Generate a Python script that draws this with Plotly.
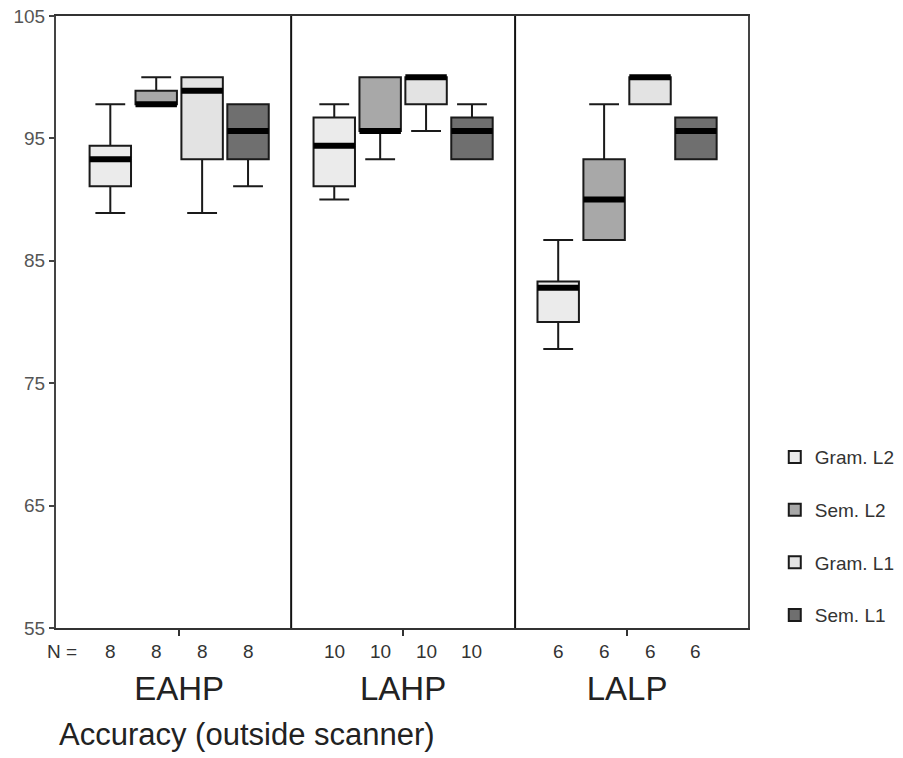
import plotly.graph_objects as go

# ---------------- data ----------------
groups = ["EAHP", "LAHP", "LALP"]
n_counts = [8, 10, 6]
conditions = ["Gram. L2", "Sem. L2", "Gram. L1", "Sem. L1"]

gram_l2_lo = [88.9, 90.0, 77.8]
gram_l2_q1 = [91.1, 91.1, 80.0]
gram_l2_med = [93.3, 94.4, 82.8]
gram_l2_q3 = [94.4, 96.7, 83.3]
gram_l2_hi = [97.8, 97.8, 86.7]

sem_l2_lo = [97.8, 93.3, 86.7]
sem_l2_q1 = [97.8, 95.6, 86.7]
sem_l2_med = [97.8, 95.6, 90.0]
sem_l2_q3 = [98.9, 100.0, 93.3]
sem_l2_hi = [100.0, 100.0, 97.8]

gram_l1_lo = [88.9, 95.6, 97.8]
gram_l1_q1 = [93.3, 97.8, 97.8]
gram_l1_med = [98.9, 100.0, 100.0]
gram_l1_q3 = [100.0, 100.0, 100.0]
gram_l1_hi = [100.0, 100.0, 100.0]

sem_l1_lo = [91.1, 93.3, 93.3]
sem_l1_q1 = [93.3, 93.3, 93.3]
sem_l1_med = [95.6, 95.6, 95.6]
sem_l1_q3 = [97.8, 96.7, 96.7]
sem_l1_hi = [97.8, 97.8, 96.7]

y_ticks = [55, 65, 75, 85, 95, 105]

# ---------------- styles ----------------
fills = ["#ebebeb", "#a8a8a8", "#e3e3e3", "#6f6f6f"]
stats = [
    (gram_l2_lo, gram_l2_q1, gram_l2_med, gram_l2_q3, gram_l2_hi),
    (sem_l2_lo, sem_l2_q1, sem_l2_med, sem_l2_q3, sem_l2_hi),
    (gram_l1_lo, gram_l1_q1, gram_l1_med, gram_l1_q3, gram_l1_hi),
    (sem_l1_lo, sem_l1_q1, sem_l1_med, sem_l1_q3, sem_l1_hi),
]
spacing = 0.205
box_w = 0.185
FONT = "Liberation Sans, Arial, sans-serif"

fig = go.Figure()
for i, (name, fill, (lo, q1, med, q3, hi)) in enumerate(zip(conditions, fills, stats)):
    off = (i - 1.5) * spacing
    xs = [g + off for g in range(len(groups))]
    fig.add_trace(go.Box(
        x=xs, lowerfence=lo, q1=q1, median=med, q3=q3, upperfence=hi,
        name=name, legendgroup=name, width=box_w, whiskerwidth=0.72,
        fillcolor=fill, line=dict(color="#1a1a1a", width=2),
        boxpoints=False, hoverinfo="skip",
    ))
    mx, my = [], []
    for x, m in zip(xs, med):
        mx += [x - box_w / 2, x + box_w / 2, None]
        my += [m, m, None]
    fig.add_trace(go.Scatter(
        x=mx, y=my, mode="lines", line=dict(color="black", width=6),
        showlegend=False, legendgroup=name, hoverinfo="skip",
    ))

# group dividers
for k in range(len(groups) - 1):
    fig.add_shape(type="line", xref="x", yref="paper", x0=k + 0.5, x1=k + 0.5,
                  y0=0, y1=1, line=dict(color="#111", width=2))

# N row
fig.add_annotation(text="N =", xref="paper", yref="paper", x=0.009, y=-0.039,
                   xanchor="center", yanchor="middle", showarrow=False,
                   font=dict(family=FONT, size=19, color="#333"))
for i in range(len(conditions)):
    off = (i - 1.5) * spacing
    for g, n in enumerate(n_counts):
        fig.add_annotation(text=str(n), xref="x", yref="paper", x=g + off, y=-0.039,
                           xanchor="center", yanchor="middle", showarrow=False,
                           font=dict(family=FONT, size=19, color="#333"))

fig.add_annotation(text="Accuracy (outside scanner)", xref="paper", yref="paper",
                   x=0.002, y=-0.206, xanchor="left", yanchor="bottom", showarrow=False,
                   font=dict(family=FONT, size=31, color="#222"))

fig.update_layout(
    width=903, height=758,
    margin=dict(l=56, r=155, t=16, b=130),
    paper_bgcolor="white", plot_bgcolor="white",
    font=dict(family=FONT, color="#333"),
    showlegend=True,
    legend=dict(xref="container", yref="container", x=0.858, y=0.422,
                xanchor="left", yanchor="top",
                font=dict(family=FONT, size=19, color="#333"),
                tracegroupgap=25, bgcolor="rgba(0,0,0,0)"),
    xaxis=dict(range=[-0.55, 2.54], tickvals=list(range(len(groups))), ticktext=groups,
               ticks="outside", ticklen=6, tickwidth=2, tickcolor="#333",
               tickfont=dict(family=FONT, size=33, color="#222"),
               ticklabelstandoff=24, automargin=False, ticklabeloverflow="allow",
               showgrid=False, zeroline=False, showline=True, linecolor="#333",
               linewidth=2, mirror=True),
    yaxis=dict(range=[55, 105], tickvals=y_ticks, ticks="outside", ticklen=5,
               tickwidth=2, tickcolor="#444", automargin=False,
               ticklabeloverflow="allow",
               tickfont=dict(family=FONT, size=19, color="#555"),
               showgrid=False, zeroline=False, showline=True, linecolor="#444",
               linewidth=2, mirror=True),
)

fig.write_html("out.html", config={"displayModeBar": False},
               post_script="document.body.style.margin='0px';document.body.style.overflow='hidden';")
